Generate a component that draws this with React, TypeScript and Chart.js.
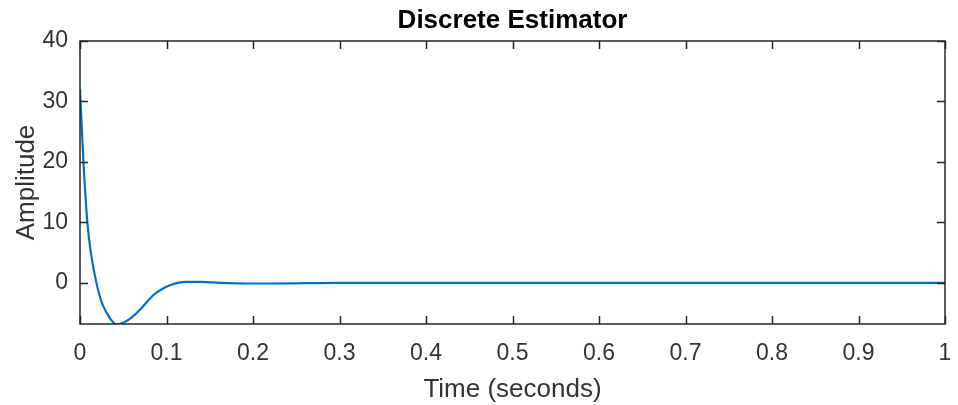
import { useEffect, useRef } from "react";
import { Chart, registerables } from "chart.js";

Chart.register(...registerables);

const chartTitle = "Discrete Estimator";
const xAxisTitle = "Time (seconds)";
const yAxisTitle = "Amplitude";

const timeSeconds = [
  0, 0.004, 0.0085, 0.013, 0.019, 0.025, 0.031, 0.037, 0.0425, 0.05, 0.06,
  0.069, 0.077, 0.085, 0.095, 0.104, 0.113, 0.123, 0.14, 0.162, 0.193, 0.22,
  0.26, 0.3, 0.4, 0.5, 0.6, 0.7, 0.8, 0.9, 1.0,
];
const amplitude = [
  32, 20, 10, 4.6, 0, -3.2, -5, -6.3, -6.9, -6.6, -5.7, -4.5, -3.2, -2.0, -1.0,
  -0.4, 0, 0.17, 0.15, 0, -0.1, -0.1, -0.05, 0, 0, 0, 0, 0, 0, 0, 0,
];

const xTickValues = [0, 0.1, 0.2, 0.3, 0.4, 0.5, 0.6, 0.7, 0.8, 0.9, 1];
const xTickLabels = ["0", "0.1", "0.2", "0.3", "0.4", "0.5", "0.6", "0.7", "0.8", "0.9", "1"];
const yTickValues = [0, 10, 20, 30, 40];
const yTickLabels = ["0", "10", "20", "30", "40"];

const X_MIN = 0;
const X_MAX = 1;
const Y_MIN = -6.8;
const Y_MAX = 40;

const AXIS_COLOR = "#262626";
const TEXT_COLOR = "#333333";
const LINE_COLOR = "#0072BD";
const FONT = "'Liberation Sans', Arial, Helvetica, sans-serif";

const boxTicksPlugin = {
  id: "boxTicks",
  afterDatasetsDraw(chart: any) {
    const { ctx, chartArea, scales } = chart;
    const { left, right, top, bottom } = chartArea;
    ctx.save();
    ctx.strokeStyle = AXIS_COLOR;
    ctx.lineWidth = 1.5;
    const tl = 8;
    ctx.beginPath();
    scales.x.ticks.forEach((t: any) => {
      const px = Math.round(scales.x.getPixelForValue(t.value)) + 0.5;
      ctx.moveTo(px, bottom);
      ctx.lineTo(px, bottom - tl);
      ctx.moveTo(px, top);
      ctx.lineTo(px, top + tl);
    });
    scales.y.ticks.forEach((t: any) => {
      const py = Math.round(scales.y.getPixelForValue(t.value)) + 0.5;
      ctx.moveTo(left, py);
      ctx.lineTo(left + tl, py);
      ctx.moveTo(right, py);
      ctx.lineTo(right - tl, py);
    });
    ctx.stroke();
    ctx.strokeRect(left, top, right - left, bottom - top);
    ctx.restore();
  },
};

export default function App() {
  const canvasRef = useRef<HTMLCanvasElement | null>(null);

  useEffect(() => {
    document.body.style.margin = "0";
    const canvas = canvasRef.current;
    if (!canvas) return;
    const chart = new Chart(canvas, {
      type: "line",
      data: {
        datasets: [
          {
            data: timeSeconds.map((t, i) => ({ x: t, y: amplitude[i] })),
            borderColor: LINE_COLOR,
            borderWidth: 2.2,
            pointRadius: 0,
            fill: false,
            cubicInterpolationMode: "monotone",
          },
        ],
      },
      options: {
        animation: false,
        responsive: false,
        maintainAspectRatio: false,
        layout: { padding: { top: 0, right: 13, bottom: 0, left: 0 } },
        plugins: {
          legend: { display: false },
          tooltip: { enabled: false },
          title: {
            display: true,
            fullSize: false,
            text: chartTitle,
            color: "#000000",
            font: { family: FONT, size: 26, weight: "bold" },
            padding: { top: 5.5, bottom: 4.3 },
          },
        },
        scales: {
          x: {
            type: "linear",
            min: X_MIN,
            max: X_MAX,
            afterBuildTicks: (s: any) => {
              s.ticks = xTickValues.map((v) => ({ value: v }));
            },
            afterFit: (s: any) => {
              s.height = 81;
              s.paddingRight = 0;
              s.paddingLeft = 0;
            },
            grid: { display: false, drawTicks: false },
            border: { display: false },
            ticks: {
              color: TEXT_COLOR,
              font: { family: FONT, size: 23 },
              padding: 16,
              maxRotation: 0,
              autoSkip: false,
              callback: (_v: any, i: number) => xTickLabels[i],
            },
            title: {
              display: true,
              text: xAxisTitle,
              color: TEXT_COLOR,
              font: { family: FONT, size: 26 },
              padding: { top: 0, bottom: 0 },
            },
          },
          y: {
            type: "linear",
            min: Y_MIN,
            max: Y_MAX,
            afterBuildTicks: (s: any) => {
              s.ticks = yTickValues.map((v) => ({ value: v }));
            },
            afterFit: (s: any) => {
              s.width = 80;
            },
            grid: { display: false, drawTicks: false },
            border: { display: false },
            ticks: {
              color: TEXT_COLOR,
              font: { family: FONT, size: 23 },
              padding: 12,
              autoSkip: false,
              callback: (_v: any, i: number) => yTickLabels[i],
            },
            title: {
              display: true,
              text: yAxisTitle,
              color: TEXT_COLOR,
              font: { family: FONT, size: 26 },
              padding: { top: 11, bottom: 0 },
            },
          },
        },
      },
      plugins: [boxTicksPlugin],
    } as any);
    return () => chart.destroy();
  }, []);

  return (
    <div style={{ position: "absolute", left: 0, top: 0, width: 958, height: 405, background: "#ffffff" }}>
      <canvas ref={canvasRef} width={958} height={405} style={{ display: "block" }} />
    </div>
  );
}
